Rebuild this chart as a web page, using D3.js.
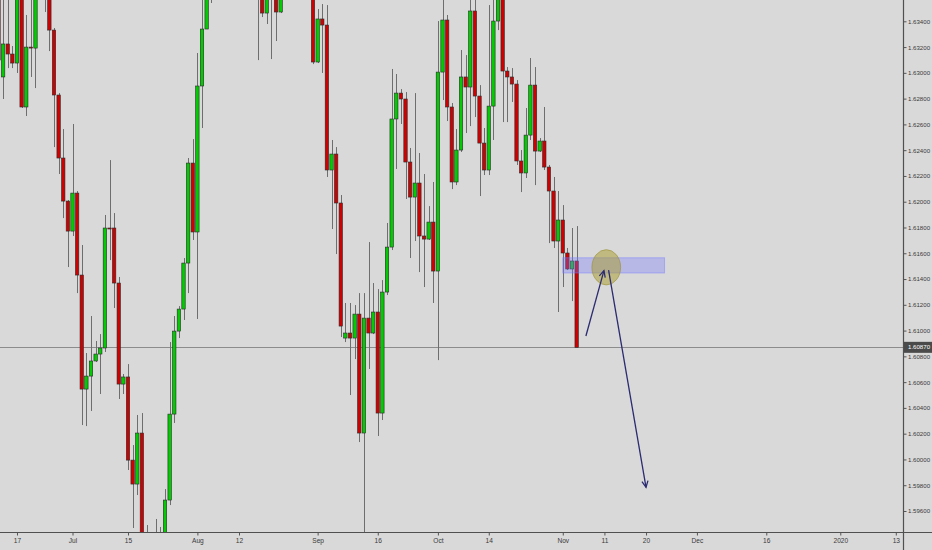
<!DOCTYPE html>
<html><head><meta charset="utf-8">
<script src="https://cdn.jsdelivr.net/npm/d3@7"></script>
<style>
html,body{margin:0;padding:0;background:#d9d9d9;}
svg{display:block;}
</style></head><body>
<svg id="chart" width="932" height="550"></svg>
<script>
// ---- data ----
const startDate = "2019-06-12";   // first bar (daily, Sun-Fri sessions)
const endDate   = "2019-11-05";   // last bar
const openP = [1.63643,1.62968,1.63224,1.63146,1.63076,1.63658,1.62735,1.63200,1.63192,1.63681,1.63705,1.63627,1.63332,1.62828,1.62339,1.62005,
1.61772,1.62067,1.61431,1.60546,1.60647,1.60764,1.60818,1.60865,1.61796,1.61796,1.61369,1.60585,1.60640,1.59995,1.59809,1.60205,
1.59219,1.59258,1.59243,1.59181,1.59219,1.59685,1.60352,1.60996,1.61167,1.61524,1.62300,1.61765,1.62898,1.63340,1.63643,1.63875,
1.64108,1.64341,1.64186,1.64031,1.64046,1.63875,1.64108,1.63953,1.63798,1.63681,1.63464,1.63643,1.63720,1.63472,1.63720,1.63953,
1.63938,1.63798,1.63992,1.63837,1.63720,1.63084,1.63418,1.63371,1.62246,1.62370,1.61990,1.60942,1.60981,1.60942,1.61128,1.60205,
1.61097,1.60981,1.61144,1.60360,1.61299,1.61648,1.62642,1.62843,1.62797,1.62308,1.62036,1.62145,1.61734,1.61710,1.61842,1.61462,
1.63006,1.63410,1.62735,1.62153,1.62401,1.62968,1.62890,1.63480,1.62820,1.62455,1.62246,1.62742,1.63402,1.63627,1.63014,1.62968,
1.62913,1.62316,1.62223,1.62517,1.62905,1.62393,1.62471,1.62269,1.62083,1.61695,1.61858,1.61602,1.61478,1.61540];
const highP = [1.63798,1.63643,1.63604,1.63208,1.63720,1.63736,1.63449,1.63627,1.63759,1.63736,1.63798,1.63681,1.63348,1.62843,1.62564,1.62013,
1.62603,1.62083,1.61664,1.60826,1.61113,1.60919,1.60973,1.61897,1.62323,1.61912,1.61416,1.60663,1.60740,1.60112,1.60345,1.60360,
1.59491,1.59297,1.59538,1.59476,1.59770,1.60911,1.61113,1.61190,1.61563,1.62339,1.62486,1.63154,1.63604,1.63681,1.64031,1.64186,
1.64496,1.64419,1.64263,1.64069,1.64147,1.64225,1.64263,1.64031,1.63914,1.63720,1.63720,1.63875,1.63798,1.63875,1.64186,1.63992,
1.64031,1.64108,1.64069,1.63953,1.63798,1.63495,1.63534,1.63526,1.62479,1.62424,1.62052,1.61214,1.61214,1.61198,1.61291,1.61291,
1.61687,1.61369,1.61322,1.61392,1.61835,1.63030,1.62991,1.62874,1.62851,1.62417,1.62843,1.62378,1.62215,1.61966,1.62153,1.63402,
1.63604,1.63449,1.62766,1.62564,1.63177,1.63138,1.63588,1.63604,1.62905,1.62572,1.63526,1.63604,1.63720,1.63681,1.63045,1.63037,
1.62944,1.62401,1.62727,1.63115,1.63045,1.62494,1.62735,1.62285,1.62192,1.62083,1.61974,1.61641,1.61796,1.61811];
const lowP = [1.62766,1.62797,1.63037,1.63037,1.62999,1.62727,1.62665,1.62968,1.62882,1.63658,1.63472,1.63169,1.62424,1.62215,1.61873,1.61493,
1.61734,1.61291,1.60267,1.60259,1.60376,1.60756,1.60508,1.60834,1.61547,1.61175,1.60469,1.60508,1.59918,1.59468,1.59724,1.59103,
1.59025,1.59219,1.58987,1.58987,1.59103,1.59646,1.60283,1.60942,1.61082,1.61291,1.61703,1.61090,1.62572,1.63340,1.63542,1.63798,
1.64031,1.64108,1.63953,1.63992,1.63720,1.63798,1.63759,1.63643,1.63099,1.63433,1.63379,1.63107,1.63247,1.63464,1.63643,1.63914,
1.63681,1.63720,1.63759,1.63643,1.63068,1.63076,1.62999,1.62192,1.61788,1.61594,1.60950,1.60911,1.60500,1.60779,1.60135,1.59350,
1.60702,1.60973,1.60182,1.60306,1.61276,1.61625,1.62254,1.62603,1.62021,1.61563,1.61695,1.61454,1.61338,1.61703,1.61214,1.60771,
1.62789,1.62626,1.62098,1.62129,1.62386,1.62533,1.62587,1.62657,1.62044,1.62207,1.62207,1.62479,1.63332,1.62618,1.62618,1.62774,
1.62285,1.62075,1.62184,1.62479,1.62129,1.62386,1.62246,1.61679,1.61641,1.61144,1.61338,1.61470,1.61229,1.60870];
const closeP = [1.63099,1.63224,1.63146,1.63076,1.63658,1.62735,1.63200,1.63195,1.63681,1.63705,1.63627,1.63332,1.62828,1.62339,1.62005,1.61772,
1.62067,1.61431,1.60546,1.60647,1.60764,1.60818,1.60865,1.61796,1.61792,1.61369,1.60585,1.60640,1.59995,1.59809,1.60205,1.59219,
1.59258,1.59243,1.59181,1.59219,1.59685,1.60352,1.60996,1.61167,1.61524,1.62300,1.61765,1.62898,1.63340,1.63643,1.63875,1.64108,
1.64341,1.64186,1.64031,1.64046,1.63875,1.64108,1.63953,1.63798,1.63681,1.63464,1.63643,1.63720,1.63472,1.63720,1.63953,1.63938,
1.63798,1.63992,1.63837,1.63720,1.63084,1.63418,1.63371,1.62246,1.62370,1.61990,1.61035,1.60981,1.60942,1.61128,1.60205,1.61097,
1.60981,1.61144,1.60360,1.61299,1.61648,1.62642,1.62843,1.62797,1.62308,1.62036,1.62145,1.61734,1.61710,1.61842,1.61462,1.63006,
1.63410,1.62735,1.62153,1.62401,1.62968,1.62890,1.63480,1.62820,1.62455,1.62246,1.62742,1.63402,1.63627,1.63014,1.62968,1.62913,
1.62316,1.62223,1.62517,1.62905,1.62393,1.62471,1.62269,1.62083,1.61695,1.61858,1.61602,1.61478,1.61540,1.60870];

const timeTickDates  = ["2019-06-17","2019-07-01","2019-07-15","2019-08-01","2019-08-12","2019-09-01","2019-09-16","2019-10-01","2019-10-14","2019-11-01","2019-11-11","2019-11-20","2019-12-01","2019-12-16","2020-01-01","2020-01-13"];
const timeTickLabels = ["17","Jul","15","Aug","12","Sep","16","Oct","14","Nov","11","20","Dec","16","2020","13"];
const priceTicks = [1.596,1.598,1.600,1.602,1.604,1.606,1.608,1.610,1.612,1.614,1.616,1.618,1.620,1.622,1.624,1.626,1.628,1.630,1.632,1.634];
const lastPrice = 1.60870;

// drawing annotations (in date / price units)
const zoneBox   = {from:"2019-11-01", to:"2019-11-24", top:1.61565, bottom:1.61447};
const ellipseA  = {date:"2019-11-11", dayFrac:0.4, price:1.61491, days:3.1, priceHalf:0.00137};
const arrowUp   = {from:["2019-11-07",0.0,1.60958], to:["2019-11-10",0.9,1.61465]};
const arrowDown = {from:["2019-11-11",0.9,1.61470], to:["2019-11-20",-0.0,1.59784]};

// ---- setup ----
const W = 932, H = 550, plotR = 903.5, plotB = 532.5;
const svg = d3.select("#chart");
const parse = d3.utcParse("%Y-%m-%d");
const dates = [];
for (let d = parse(startDate); d <= parse(endDate); d = d3.utcDay.offset(d, 1)) {
  if (d.getUTCDay() !== 6) dates.push(d);
}
const lastD = dates[dates.length - 1];
function slotOf(s) {
  const d = parse(s);
  const i = dates.findIndex(v => +v === +d);
  if (i >= 0) return i;
  return dates.length - 1 + d3.utcDay.count(lastD, d);
}
const bars = dates.map((d, i) => ({i, o: openP[i], h: highP[i], l: lowP[i], c: closeP[i]}));

const x = d3.scaleLinear().domain([16, 194]).range([72.5, 895.8]);
const y = d3.scaleLinear().domain([1.596, 1.634]).range([511, 21.3]);

svg.append("rect").attr("width", W).attr("height", H).attr("fill", "#d9d9d9");
svg.append("defs").append("clipPath").attr("id", "clip")
  .append("rect").attr("x", 0).attr("y", 0).attr("width", plotR).attr("height", plotB);

const plot = svg.append("g").attr("clip-path", "url(#clip)");

// last price line
plot.append("line").attr("x1", 0).attr("x2", plotR)
  .attr("y1", Math.round(y(lastPrice)) + 0.5).attr("y2", Math.round(y(lastPrice)) + 0.5)
  .attr("stroke", "#8c8c8c").attr("stroke-width", 1);

// wicks
plot.selectAll("line.wick").data(bars).join("line").attr("class", "wick")
  .attr("x1", d => Math.round(x(d.i)) + 0.5).attr("x2", d => Math.round(x(d.i)) + 0.5)
  .attr("y1", d => y(d.h)).attr("y2", d => y(d.l))
  .attr("stroke", "#6e6e6e").attr("stroke-width", 1);

// bodies
const bw = 3.4;
plot.selectAll("rect.body").data(bars).join("rect").attr("class", "body")
  .attr("x", d => x(d.i) - bw / 2)
  .attr("y", d => y(Math.max(d.o, d.c)))
  .attr("width", bw)
  .attr("height", d => Math.max(1, Math.abs(y(d.o) - y(d.c))))
  .attr("fill", d => d.c >= d.o ? "#00cc00" : "#d00000")
  .attr("stroke", "#2a2a2a").attr("stroke-width", 0.6);

// zone rectangle
const zx1 = x(slotOf(zoneBox.from)), zx2 = x(slotOf(zoneBox.to));
plot.append("rect").attr("x", zx1).attr("y", y(zoneBox.top))
  .attr("width", zx2 - zx1).attr("height", y(zoneBox.bottom) - y(zoneBox.top))
  .attr("fill", "#787bff").attr("fill-opacity", 0.35)
  .attr("stroke", "#787bff").attr("stroke-opacity", 0.45).attr("stroke-width", 1);

// ellipse
const ecx = x(slotOf(ellipseA.date) + ellipseA.dayFrac);
plot.append("ellipse").attr("cx", ecx).attr("cy", y(ellipseA.price))
  .attr("rx", x(ellipseA.days) - x(0))
  .attr("ry", y(ellipseA.price - ellipseA.priceHalf) - y(ellipseA.price))
  .attr("fill", "#a89a28").attr("fill-opacity", 0.5)
  .attr("stroke", "#9a9030").attr("stroke-opacity", 0.6).attr("stroke-width", 1);

// arrows
function arrow(a) {
  const x1 = x(slotOf(a.from[0]) + a.from[1]), y1 = y(a.from[2]);
  const x2 = x(slotOf(a.to[0]) + a.to[1]), y2 = y(a.to[2]);
  const g = plot.append("g").attr("stroke", "#2b2b72").attr("stroke-width", 1.3).attr("fill", "none");
  g.append("line").attr("x1", x1).attr("y1", y1).attr("x2", x2).attr("y2", y2);
  const ang = Math.atan2(y2 - y1, x2 - x1), L = 7, s = 0.45;
  g.append("path").attr("d",
    `M${x2 - L * Math.cos(ang - s)},${y2 - L * Math.sin(ang - s)}L${x2},${y2}L${x2 - L * Math.cos(ang + s)},${y2 - L * Math.sin(ang + s)}`);
}
arrow(arrowUp);
arrow(arrowDown);

// axes
const font = "'Liberation Sans', Arial, sans-serif";
const yAxis = svg.append("g").attr("transform", `translate(${plotR},0)`)
  .call(d3.axisRight(y).tickValues(priceTicks).tickFormat(d3.format(".5f")).tickSize(3).tickPadding(1.5));
yAxis.select(".domain").remove();
yAxis.selectAll("line").attr("stroke", "#555");
yAxis.selectAll("text").attr("fill", "#3a3a3a").style("font-family", font).style("font-size", "6.1px");

const xAxis = svg.append("g").attr("transform", `translate(0,${plotB})`)
  .call(d3.axisBottom(x).tickValues(timeTickDates.map(slotOf))
    .tickFormat((d, i) => timeTickLabels[i]).tickSize(3).tickPadding(3));
xAxis.select(".domain").remove();
xAxis.selectAll("line").attr("stroke", "#555");
xAxis.selectAll("text").attr("fill", "#3a3a3a").style("font-family", font).style("font-size", "6.6px");

svg.append("line").attr("x1", 0).attr("x2", W).attr("y1", plotB).attr("y2", plotB)
  .attr("stroke", "#505050").attr("stroke-width", 1.2);
svg.append("line").attr("x1", plotR).attr("x2", plotR).attr("y1", 0).attr("y2", H)
  .attr("stroke", "#505050").attr("stroke-width", 1.2);

// last price label
const ly = y(lastPrice);
svg.append("rect").attr("x", plotR + 0.5).attr("y", ly - 5.5).attr("width", W - plotR).attr("height", 11)
  .attr("fill", "#4a4a4a");
svg.append("text").attr("x", plotR + 4.5).attr("y", ly).attr("dy", "0.35em")
  .attr("fill", "#ffffff").style("font-family", font).style("font-size", "6.1px")
  .text(d3.format(".5f")(lastPrice));
</script>
</body></html>
